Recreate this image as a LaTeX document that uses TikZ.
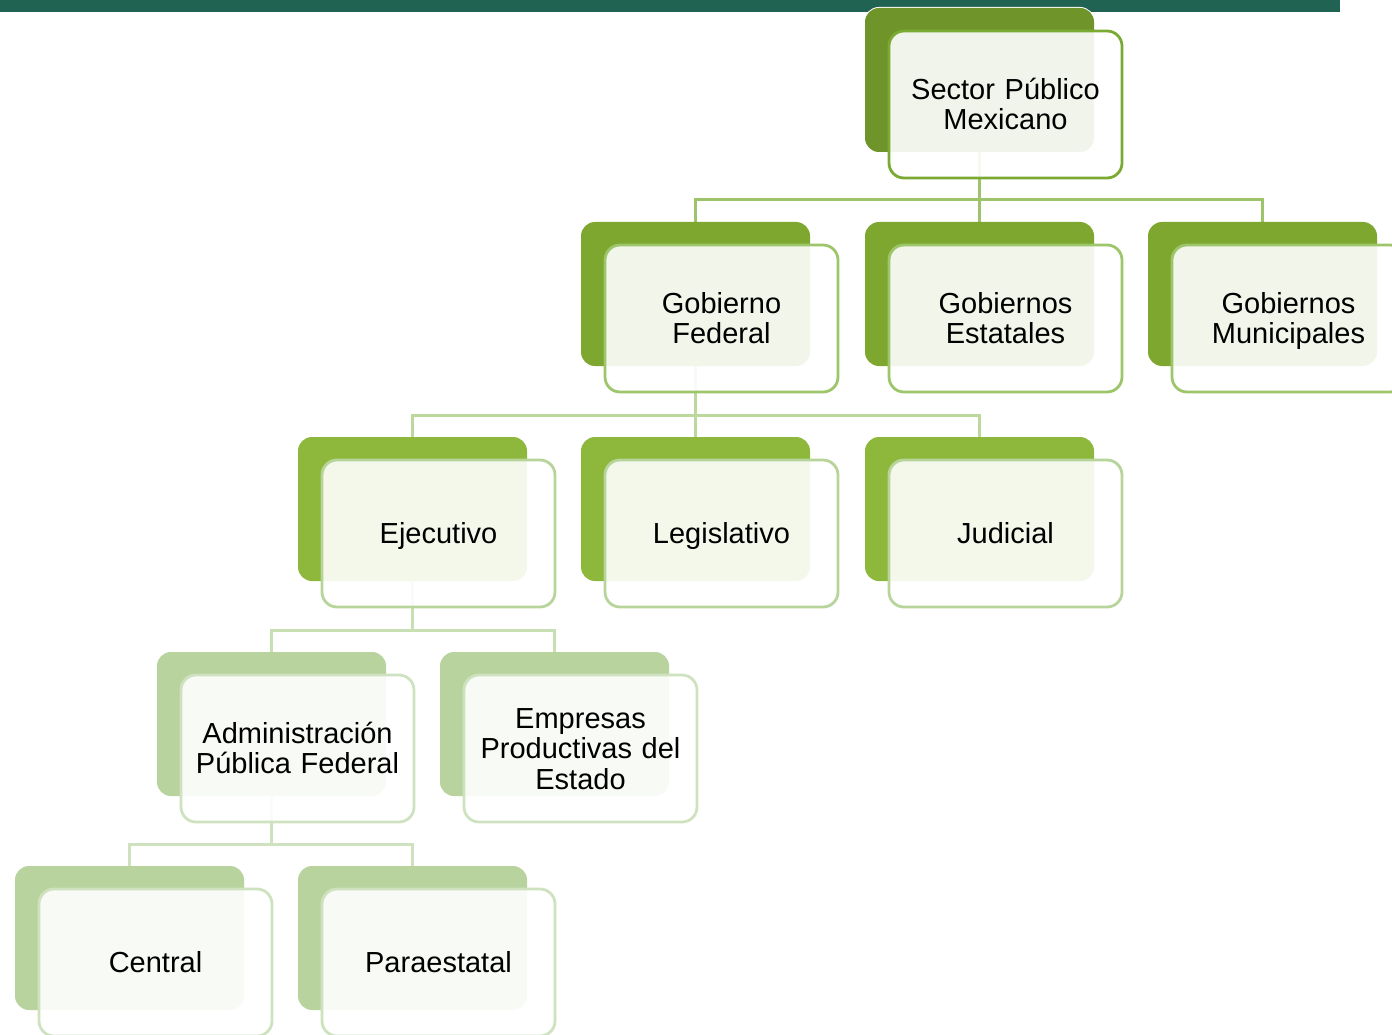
\documentclass[tikz,border=0pt]{standalone}
\usepackage{fontspec}
\setmainfont{Liberation Sans}
\usetikzlibrary{calc}
\definecolor{barc}{HTML}{216352}
\definecolor{backA}{HTML}{6E942A}
\definecolor{backB}{HTML}{7EA72F}
\definecolor{backC}{HTML}{8DB83C}
\definecolor{backD}{HTML}{B8D39E}
\definecolor{edgeA}{HTML}{7BAA33}
\definecolor{edgeB}{HTML}{9DC66A}
\definecolor{edgeC}{HTML}{B7D49A}
\definecolor{edgeD}{HTML}{CFE2BF}
\definecolor{lineA}{HTML}{9DC36B}
\definecolor{lineB}{HTML}{BCD89D}
\definecolor{lineC}{HTML}{C8DEB3}
\definecolor{lineD}{HTML}{CFE2BF}
\tikzset{
  backbox/.style={rectangle, rounded corners=14pt, minimum width=229pt, minimum height=144pt,
    inner sep=0pt, outer sep=0pt, anchor=north west, draw=white, line width=2pt, fill=#1},
  frontbox/.style={rectangle, rounded corners=15pt, minimum width=233pt, minimum height=147pt,
    inner sep=0pt, outer sep=0pt, anchor=north west, draw=#1, line width=2.8pt,
    fill=white, fill opacity=0.9, text opacity=1, text width=225pt, align=center,
    font=\fontsize{29}{30.5}\selectfont,
    execute at begin node={\rule{0pt}{29.5pt}}, execute at end node=\strut},
  conn/.style={draw=#1, line width=3pt}
}
\begin{document}
\begin{tikzpicture}[x=1pt,y=-1pt]
\useasboundingbox (0,0) rectangle (1392,1035);
\fill[barc] (0,0) rectangle (1340,12);
% back boxes
\node[backbox=backA] (b1) at (865,8) {};
\node[backbox=backB] (b21) at (581,222) {};
\node[backbox=backB] (b22) at (865,222) {};
\node[backbox=backB] (b23) at (1148,222) {};
\node[backbox=backC] (b31) at (298,437) {};
\node[backbox=backC] (b32) at (581,437) {};
\node[backbox=backC] (b33) at (865,437) {};
\node[backbox=backD] (b41) at (157,652) {};
\node[backbox=backD] (b42) at (440,652) {};
\node[backbox=backD] (b51) at (15,866) {};
\node[backbox=backD] (b52) at (298,866) {};
% connectors
\draw[conn=lineA] (b1.south) |- ($(b21.north)+(0,-22)$) -- (b21.north);
\draw[conn=lineA] (b1.south) -- (b22.north);
\draw[conn=lineA] (b1.south) |- ($(b23.north)+(0,-22)$) -- (b23.north);
\draw[conn=lineB] (b21.south) |- ($(b31.north)+(0,-22)$) -- (b31.north);
\draw[conn=lineB] (b21.south) -- (b32.north);
\draw[conn=lineB] (b21.south) |- ($(b33.north)+(0,-22)$) -- (b33.north);
\draw[conn=lineC] (b31.south) |- ($(b41.north)+(0,-22)$) -- (b41.north);
\draw[conn=lineC] (b31.south) |- ($(b42.north)+(0,-22)$) -- (b42.north);
\draw[conn=lineD] (b41.south) |- ($(b51.north)+(0,-22)$) -- (b51.north);
\draw[conn=lineD] (b41.south) |- ($(b52.north)+(0,-22)$) -- (b52.north);
% redraw back boxes above connectors
\foreach \n/\c in {b1/backA,b21/backB,b22/backB,b23/backB,b31/backC,b32/backC,b33/backC,b41/backD,b42/backD,b51/backD,b52/backD}{
  \fill[\c, rounded corners=14pt] (\n.north west) rectangle (\n.south east);
}
% front boxes
\node[frontbox=edgeA] (f1) at ($(b1.north west)+(24,23)$) {Sector Público\\Mexicano};
\node[frontbox=edgeB] (f21) at ($(b21.north west)+(24,23)$) {Gobierno\\Federal};
\node[frontbox=edgeB] (f22) at ($(b22.north west)+(24,23)$) {Gobiernos\\Estatales};
\node[frontbox=edgeB] (f23) at ($(b23.north west)+(24,23)$) {Gobiernos\\Municipales};
\node[frontbox=edgeC] (f31) at ($(b31.north west)+(24,23)$) {Ejecutivo};
\node[frontbox=edgeC] (f32) at ($(b32.north west)+(24,23)$) {Legislativo};
\node[frontbox=edgeC] (f33) at ($(b33.north west)+(24,23)$) {Judicial};
\node[frontbox=edgeD] (f41) at ($(b41.north west)+(24,23)$) {Administración\\Pública Federal};
\node[frontbox=edgeD] (f42) at ($(b42.north west)+(24,23)$) {Empresas\\Productivas del\\Estado};
\node[frontbox=edgeD] (f51) at ($(b51.north west)+(24,23)$) {Central};
\node[frontbox=edgeD] (f52) at ($(b52.north west)+(24,23)$) {Paraestatal};
\end{tikzpicture}
\end{document}
